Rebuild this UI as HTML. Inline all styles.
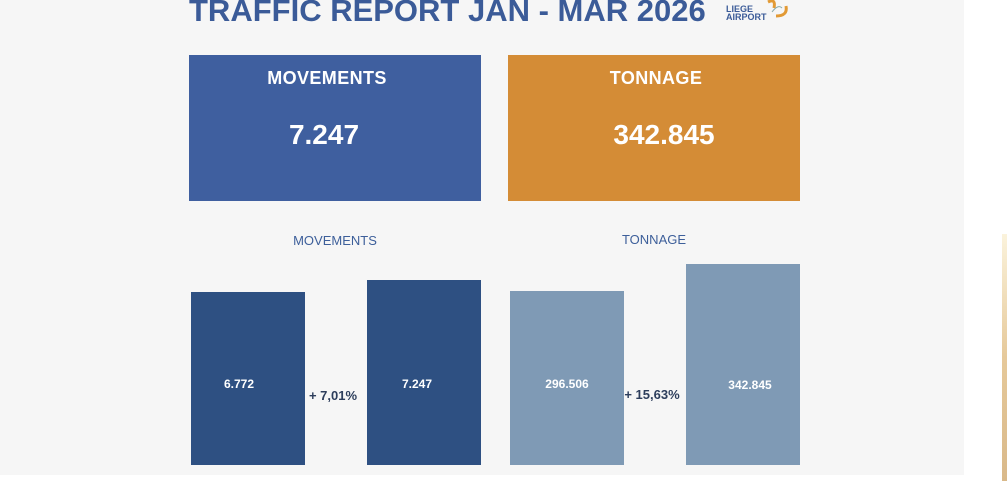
<!DOCTYPE html>
<html><head><meta charset="utf-8"><style>
body{margin:0;width:1007px;height:481px;background:#fff;position:relative;overflow:hidden;font-family:"Liberation Sans",sans-serif}
.a{position:absolute}
.c{text-align:center;font-weight:bold}
</style></head><body>
<div class="a" style="left:0;top:0;width:964px;height:475px;background:#f6f6f6"></div>
<div class="a" style="left:1002px;top:234px;width:5px;height:247px;background:linear-gradient(#fbf3dc,#e6c99a,#d9b98a)"></div>
<div class="a" style="left:189px;top:-7px;font-size:31px;font-weight:bold;color:#3b5b98;white-space:nowrap">TRAFFIC REPORT JAN - MAR 2026</div>
<div class="a" style="left:726px;top:5px;font-size:9px;font-weight:bold;color:#3b5b98;line-height:8px">LIEGE<br>AIRPORT</div>
<svg class="a" style="left:762px;top:0" width="28" height="20"><path d="M6 2 Q14 -2 12 8" stroke="#e29a35" stroke-width="3" fill="none"/><path d="M24 6 Q26 16 14 16" stroke="#e29a35" stroke-width="3" fill="none"/><path d="M10 12 Q16 4 20 8" stroke="#8aa" stroke-width="1" fill="none"/></svg>
<div class="a" style="left:189px;top:55px;width:292px;height:146px;background:#3f5f9f"></div>
<div class="a" style="left:508px;top:55px;width:292px;height:146px;background:#d48c36"></div>
<div class="a c" style="left:181px;top:68px;width:292px;font-size:18px;letter-spacing:0.4px;color:#fff">MOVEMENTS</div>
<div class="a c" style="left:178px;top:119px;width:292px;font-size:28px;color:#fff">7.247</div>
<div class="a c" style="left:510px;top:68px;width:292px;font-size:18px;letter-spacing:0.4px;color:#fff">TONNAGE</div>
<div class="a c" style="left:518px;top:119px;width:292px;font-size:28px;color:#fff">342.845</div>
<div class="a" style="left:235px;top:233px;width:200px;text-align:center;font-size:13px;color:#3d5f9a">MOVEMENTS</div>
<div class="a" style="left:554px;top:232px;width:200px;text-align:center;font-size:13px;color:#3d5f9a">TONNAGE</div>
<div class="a" style="left:191px;top:292px;width:114px;height:173px;background:#2e5082"></div>
<div class="a" style="left:367px;top:280px;width:114px;height:185px;background:#2e5082"></div>
<div class="a" style="left:510px;top:291px;width:114px;height:174px;background:#7f9ab5"></div>
<div class="a" style="left:686px;top:264px;width:114px;height:201px;background:#7f9ab5"></div>
<div class="a c" style="left:191px;top:377px;width:96px;font-size:12px;color:#fff">6.772</div>
<div class="a c" style="left:367px;top:377px;width:100px;font-size:12px;color:#fff">7.247</div>
<div class="a c" style="left:510px;top:377px;width:114px;font-size:12px;color:#fff">296.506</div>
<div class="a c" style="left:686px;top:378px;width:128px;font-size:12px;color:#fff">342.845</div>
<div class="a c" style="left:303px;top:388px;width:60px;font-size:13px;color:#2d3e5c">+ 7,01%</div>
<div class="a c" style="left:620px;top:387px;width:64px;font-size:13px;color:#2d3e5c">+ 15,63%</div>
</body></html>
